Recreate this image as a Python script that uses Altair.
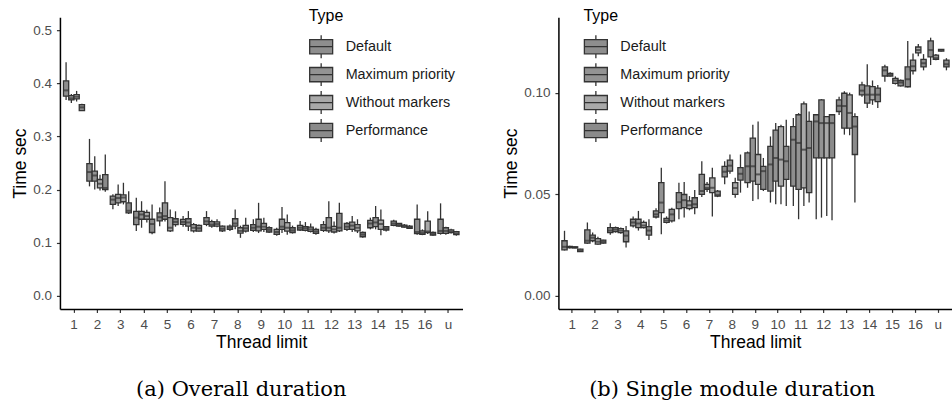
import altair as alt
import pandas as pd

THREADS = ["1", "2", "3", "4", "5", "6", "7", "8", "9", "10", "11", "12", "13", "14", "15", "16", "u"]
TYPES = ["Default", "Maximum priority", "Without markers", "Performance"]
FILLS = ["#8e8e8e", "#939393", "#a9a9a9", "#8b8b8b"]

# (lower whisker, q1, median, q3, upper whisker) per thread limit
OVERALL_DEFAULT = [
    (0.369, 0.376, 0.387, 0.405, 0.440), (0.206, 0.216, 0.233, 0.249, 0.2955),
    (0.163, 0.172, 0.181, 0.1876, 0.191), (0.122, 0.134, 0.147, 0.159, 0.1846),
    (0.131, 0.141, 0.148, 0.156, 0.166), (0.130, 0.1344, 0.139, 0.1438, 0.150),
    (0.131, 0.1344, 0.140, 0.147, 0.1594), (0.122, 0.125, 0.128, 0.131, 0.134),
    (0.120, 0.123, 0.128, 0.134, 0.1438), (0.113, 0.1156, 0.120, 0.125, 0.128),
    (0.122, 0.1237, 0.128, 0.1325, 0.1406), (0.120, 0.123, 0.128, 0.134, 0.1406),
    (0.122, 0.125, 0.130, 0.136, 0.139), (0.125, 0.128, 0.136, 0.142, 0.147),
    (0.131, 0.1325, 0.136, 0.1406, 0.143), (0.115, 0.117, 0.120, 0.144, 0.172),
    (0.115, 0.1175, 0.122, 0.144, 0.174),
]
OVERALL_MAXPRIO = [
    (0.363, 0.369, 0.372, 0.377, 0.380), (0.200, 0.2158, 0.2265, 0.2346, 0.263),
    (0.169, 0.175, 0.184, 0.191, 0.2096), (0.128, 0.144, 0.153, 0.159, 0.178),
    (0.140, 0.144, 0.150, 0.175, 0.2158), (0.1218, 0.131, 0.138, 0.145, 0.1594),
    (0.128, 0.131, 0.134, 0.1395, 0.143), (0.125, 0.131, 0.136, 0.145, 0.1626),
    (0.118, 0.122, 0.130, 0.144, 0.175), (0.118, 0.125, 0.130, 0.144, 0.167),
    (0.121, 0.123, 0.127, 0.130, 0.1387), (0.118, 0.122, 0.128, 0.147, 0.178),
    (0.120, 0.125, 0.132, 0.1387, 0.150), (0.125, 0.130, 0.138, 0.147, 0.169),
    (0.130, 0.131, 0.133, 0.136, 0.137), (0.114, 0.1156, 0.118, 0.122, 0.125),
    (0.115, 0.1175, 0.122, 0.128, 0.130),
]
OVERALL_NOMARK = [
    (0.366, 0.371, 0.375, 0.379, 0.386), (0.198, 0.203, 0.211, 0.219, 0.228),
    (0.172, 0.177, 0.185, 0.190, 0.2128), (0.138, 0.144, 0.150, 0.157, 0.162),
    (0.120, 0.122, 0.128, 0.147, 0.1626), (0.119, 0.122, 0.128, 0.134, 0.137),
    (0.129, 0.131, 0.135, 0.139, 0.144), (0.109, 0.118, 0.122, 0.128, 0.132),
    (0.120, 0.125, 0.130, 0.136, 0.147), (0.115, 0.1218, 0.128, 0.1376, 0.153),
    (0.119, 0.121, 0.125, 0.129, 0.136), (0.117, 0.120, 0.125, 0.1306, 0.140),
    (0.118, 0.122, 0.128, 0.134, 0.144), (0.1137, 0.125, 0.135, 0.1425, 0.1626),
    (0.128, 0.129, 0.131, 0.133, 0.135), (0.116, 0.119, 0.121, 0.1406, 0.159),
    (0.117, 0.119, 0.121, 0.124, 0.126),
]
OVERALL_PERF = [
    (0.348, 0.349, 0.355, 0.360, 0.362), (0.196, 0.200, 0.203, 0.228, 0.266),
    (0.154, 0.156, 0.160, 0.175, 0.197), (0.1156, 0.119, 0.135, 0.144, 0.172),
    (0.130, 0.134, 0.139, 0.145, 0.159), (0.121, 0.1218, 0.127, 0.1325, 0.134),
    (0.120, 0.122, 0.126, 0.131, 0.132), (0.119, 0.1218, 0.127, 0.1325, 0.147),
    (0.118, 0.120, 0.124, 0.128, 0.131), (0.117, 0.119, 0.123, 0.128, 0.132),
    (0.115, 0.1175, 0.121, 0.125, 0.128), (0.120, 0.122, 0.128, 0.155, 0.175),
    (0.109, 0.111, 0.115, 0.119, 0.121), (0.121, 0.1237, 0.127, 0.130, 0.131),
    (0.126, 0.127, 0.129, 0.131, 0.133), (0.113, 0.114, 0.116, 0.119, 0.121),
    (0.113, 0.115, 0.117, 0.1207, 0.122),
]

MODULE_DEFAULT = [
    (0.0222, 0.0225, 0.024, 0.027, 0.0319), (0.0255, 0.0258, 0.027, 0.0324, 0.036),
    (0.030, 0.031, 0.032, 0.0335, 0.0356), (0.0335, 0.0343, 0.036, 0.0376, 0.039),
    (0.038, 0.0387, 0.040, 0.0417, 0.043), (0.0376, 0.0428, 0.046, 0.0507, 0.0556),
    (0.0485, 0.0499, 0.0515, 0.0597, 0.0662), (0.0548, 0.0585, 0.061, 0.0637, 0.0662),
    (0.0531, 0.0556, 0.0637, 0.0703, 0.071), (0.0458, 0.0515, 0.0646, 0.0735, 0.0784),
    (0.0441, 0.0539, 0.0768, 0.0833, 0.0875), (0.0376, 0.0678, 0.0858, 0.0891, 0.0891),
    (0.089, 0.0907, 0.0935, 0.0964, 0.098), (0.098, 0.0989, 0.101, 0.1038, 0.1054),
    (0.1054, 0.1082, 0.111, 0.1127, 0.1137), (0.1025, 0.1029, 0.1066, 0.1127, 0.1255),
    (0.1136, 0.1176, 0.121, 0.1255, 0.1271),
]
MODULE_MAXPRIO = [
    (0.0232, 0.0236, 0.0238, 0.0242, 0.0245), (0.0262, 0.027, 0.0285, 0.0298, 0.031),
    (0.031, 0.0315, 0.0325, 0.0335, 0.034), (0.032, 0.0335, 0.0355, 0.0376, 0.0417),
    (0.0302, 0.0409, 0.0458, 0.0556, 0.063), (0.0384, 0.0433, 0.047, 0.0498, 0.0559),
    (0.051, 0.0523, 0.053, 0.0548, 0.056), (0.060, 0.0613, 0.064, 0.0667, 0.0695),
    (0.0466, 0.0564, 0.0637, 0.0776, 0.0842), (0.045, 0.0564, 0.0678, 0.0815, 0.085),
    (0.0376, 0.0523, 0.0752, 0.0891, 0.0899), (0.0384, 0.0678, 0.085, 0.0964, 0.0968),
    (0.0793, 0.0825, 0.0934, 0.0997, 0.1007), (0.0924, 0.0948, 0.099, 0.1033, 0.114),
    (0.108, 0.1082, 0.109, 0.1095, 0.110), (0.109, 0.1108, 0.113, 0.116, 0.1193),
    (0.116, 0.1164, 0.117, 0.1185, 0.119),
]
MODULE_NOMARK = [
    (0.0233, 0.0235, 0.0237, 0.024, 0.0242), (0.025, 0.0253, 0.0265, 0.028, 0.029),
    (0.0305, 0.031, 0.032, 0.033, 0.0335), (0.033, 0.0335, 0.0345, 0.036, 0.037),
    (0.0355, 0.036, 0.037, 0.038, 0.039), (0.042, 0.0428, 0.0445, 0.0466, 0.049),
    (0.039, 0.0507, 0.0531, 0.058, 0.063), (0.0482, 0.0499, 0.053, 0.0556, 0.058),
    (0.0474, 0.0548, 0.0597, 0.0695, 0.0858), (0.045, 0.0539, 0.067, 0.0833, 0.0842),
    (0.0441, 0.0531, 0.0719, 0.0945, 0.0956), (0.0392, 0.0678, 0.085, 0.0882, 0.0882),
    (0.079, 0.0825, 0.090, 0.0989, 0.100), (0.094, 0.0964, 0.099, 0.103, 0.106),
    (0.104, 0.1046, 0.106, 0.107, 0.108), (0.118, 0.1196, 0.121, 0.1225, 0.124),
    (0.1203, 0.1205, 0.121, 0.1213, 0.1215),
]
MODULE_PERF = [
    (0.0214, 0.0216, 0.022, 0.0229, 0.023), (0.0255, 0.0258, 0.0265, 0.0273, 0.0275),
    (0.0237, 0.0265, 0.0295, 0.0319, 0.0343), (0.0273, 0.0298, 0.032, 0.034, 0.0376),
    (0.036, 0.0368, 0.040, 0.0425, 0.0433), (0.040, 0.0433, 0.045, 0.0482, 0.052),
    (0.0485, 0.049, 0.0495, 0.0515, 0.052), (0.0507, 0.0569, 0.060, 0.063, 0.0695),
    (0.0515, 0.0523, 0.0613, 0.0637, 0.0678), (0.0441, 0.0572, 0.0662, 0.0735, 0.0866),
    (0.0458, 0.0507, 0.0727, 0.0858, 0.0907), (0.0371, 0.0678, 0.085, 0.0891, 0.0891),
    (0.0458, 0.0695, 0.0833, 0.0882, 0.0899), (0.0924, 0.0956, 0.099, 0.1022, 0.1038),
    (0.103, 0.1033, 0.105, 0.106, 0.1065), (0.111, 0.1127, 0.1145, 0.1164, 0.119),
    (0.111, 0.1127, 0.114, 0.116, 0.117),
]


def to_frame(series_list):
    rows = []
    for tname, series in zip(TYPES, series_list):
        for thread, (lo, q1, med, q3, hi) in zip(THREADS, series):
            rows.append(dict(thread=thread, type=tname, lo=lo, q1=q1, med=med, q3=q3, hi=hi))
    return pd.DataFrame(rows)


SANS = "Liberation Sans"
LINE = "#333333"
SYMBOL = "M-1,-0.62H1V0.62H-1Z M-1,0H1 M0,-0.62V-1 M0,0.62V1"


def panel(df, ydomain, yvalues, yfmt, caption, legend_x, width, cap_dx):
    xenc = alt.X("thread:N", sort=THREADS,
                 scale=alt.Scale(paddingInner=0, paddingOuter=0.1),
                 axis=alt.Axis(title="Thread limit", labelAngle=0))
    xoff = alt.XOffset("type:N", sort=TYPES,
                       scale=alt.Scale(paddingInner=0, paddingOuter=0.2222))
    yscale = alt.Scale(domain=ydomain, nice=False, zero=False)
    base = alt.Chart(df).encode(x=xenc, xOffset=xoff)
    whisk = base.mark_rule(color=LINE, strokeWidth=1.3).encode(
        y=alt.Y("lo:Q", scale=yscale,
                axis=alt.Axis(title="Time sec", values=yvalues, format=yfmt)),
        y2="hi:Q")
    box = base.mark_bar(stroke=LINE, strokeWidth=1.3).encode(
        y=alt.Y("q3:Q", scale=yscale), y2="q1:Q",
        fill=alt.Fill("type:N", sort=TYPES,
                      scale=alt.Scale(domain=TYPES, range=FILLS),
                      legend=alt.Legend(title="Type", orient="none",
                                        legendX=legend_x, legendY=-9,
                                        symbolType=SYMBOL, symbolSize=529,
                                        symbolStrokeColor=LINE,
                                        symbolStrokeWidth=1.3,
                                        symbolOpacity=1)))
    med = base.mark_tick(color=LINE, thickness=2, size=5).encode(
        y=alt.Y("med:Q", scale=yscale))
    return alt.layer(whisk, box, med).properties(
        width=width, height=292,
        title=alt.TitleParams(caption, orient="bottom", anchor="middle",
                              frame="group", dx=cap_dx, offset=28,
                              font="DejaVu Serif", fontSize=21,
                              fontWeight="normal", color="black"))


left = panel(to_frame([OVERALL_DEFAULT, OVERALL_MAXPRIO, OVERALL_NOMARK, OVERALL_PERF]),
             [-0.025, 0.525], [0.0, 0.1, 0.2, 0.3, 0.4, 0.5], ".1f",
             "(a) Overall duration", 249, 403, -20)
right = panel(to_frame([MODULE_DEFAULT, MODULE_MAXPRIO, MODULE_NOMARK, MODULE_PERF]),
              [-0.0066, 0.1372], [0.0, 0.05, 0.10], ".2f",
              "(b) Single module duration", 25, 394, -23)

chart = alt.hconcat(left, right, spacing=40).resolve_scale(
    fill="independent", y="independent", x="independent"
).properties(
    padding={"left": 11, "top": 8, "right": 0, "bottom": 0},
    background="white",
).configure_view(stroke=None).configure_axis(
    grid=False, domainColor="black", domainWidth=1.5,
    tickColor=LINE, tickWidth=1.2, tickSize=3.5,
    labelFont=SANS, labelFontSize=13.5, labelColor="#4d4d4d", labelPadding=5,
    titleFont=SANS, titleFontSize=17.5, titleColor="black",
    titleFontWeight="normal", titlePadding=3,
).configure_legend(
    titleFont=SANS, titleFontSize=16, titleFontWeight="normal", titleColor="black",
    labelFont=SANS, labelFontSize=14.4, labelColor="#1a1a1a",
    titlePadding=10, rowPadding=-1, labelOffset=12,
)

chart.save("out.html", embed_options={"renderer": "svg", "actions": False})
